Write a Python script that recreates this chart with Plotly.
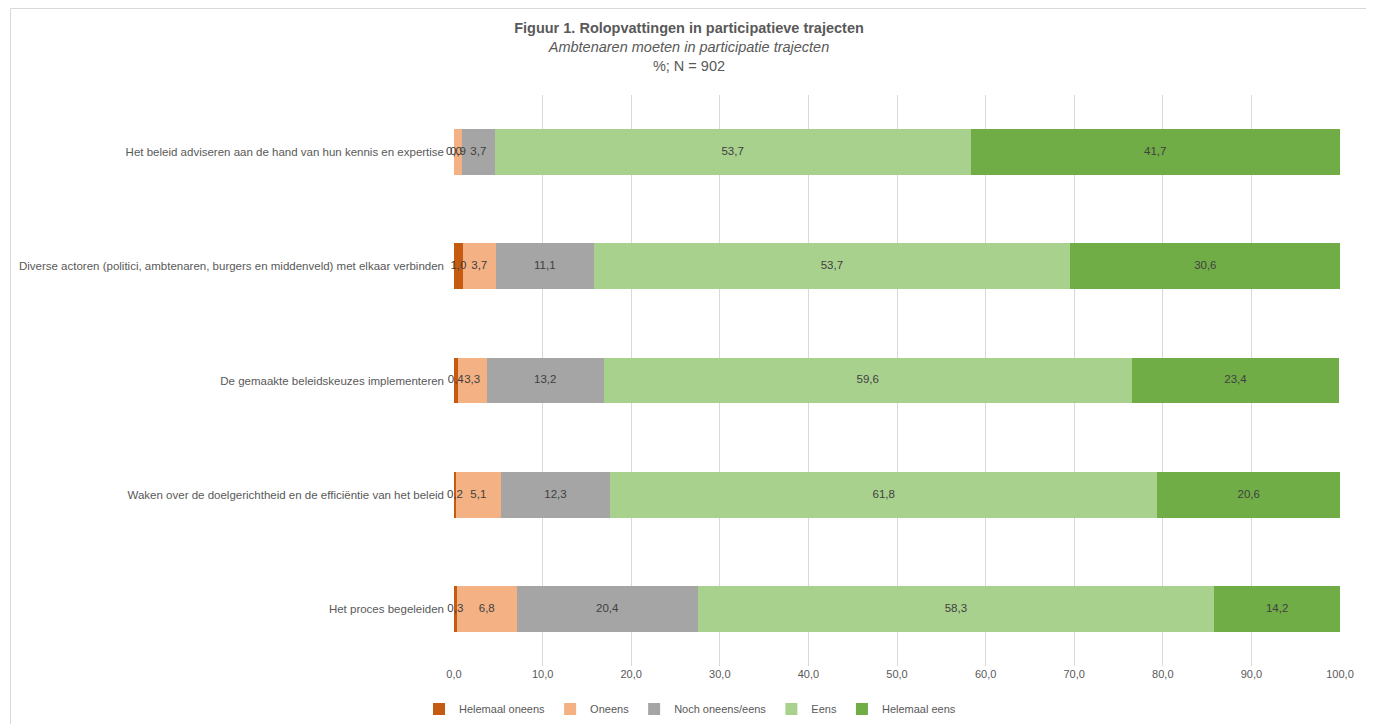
import plotly.graph_objects as go
import numpy as np

categories = [
    "Het beleid adviseren aan de hand van hun kennis en expertise",
    "Diverse actoren (politici, ambtenaren, burgers en middenveld) met elkaar verbinden",
    "De gemaakte beleidskeuzes implementeren",
    "Waken over de doelgerichtheid en de efficiëntie van het beleid",
    "Het proces begeleiden",
]
series_names = ["Helemaal oneens", "Oneens", "Noch oneens/eens", "Eens", "Helemaal eens"]
helemaal_oneens = [0.0, 1.0, 0.4, 0.2, 0.3]
oneens = [0.9, 3.7, 3.3, 5.1, 6.8]
noch = [3.7, 11.1, 13.2, 12.3, 20.4]
eens = [53.7, 53.7, 59.6, 61.8, 58.3]
helemaal_eens = [41.7, 30.6, 23.4, 20.6, 14.2]
colors = ["#C55A11", "#F4B183", "#A5A5A5", "#A9D18E", "#70AD47"]
tick_vals = [0, 10, 20, 30, 40, 50, 60, 70, 80, 90, 100]

FONT = "Liberation Sans"
series = [helemaal_oneens, oneens, noch, eens, helemaal_eens]
fig = go.Figure()
for name, vals, col in zip(series_names, series, colors):
    fig.add_trace(go.Bar(
        y=categories, x=vals, name=name, orientation="h",
        marker=dict(color=col, line=dict(width=0)),
        hoverinfo="skip",
    ))

# data labels drawn on top of all bars (centre of each stacked segment)
base = np.zeros(len(categories))
for name, vals in zip(series_names, series):
    v = np.array(vals)
    fig.add_trace(go.Scatter(
        y=categories, x=base + v / 2, mode="text",
        text=[f"{x:.1f}".replace(".", ",") for x in vals],
        textposition="middle center",
        textfont=dict(color="#404040", size=11.5, family=FONT),
        showlegend=False, hoverinfo="skip", cliponaxis=False,
    ))
    base = base + v

OFF = 8  # page body margin
W, H = 1374 - OFF, 724 - OFF
ml = 454 - OFF
mr = W - (1340 - OFF)
mt = 95 - OFF
mb = H - (666 - OFF)
pw, ph = W - ml - mr, H - mt - mb
def px(x):
    return (x - OFF - ml) / pw
def py(y):
    return 1 - (y - OFF - mt) / ph
def cx(x):
    return (x - OFF) / W
def cy(y):
    return 1 - (y - OFF) / H

fig.update_layout(
    width=W, height=H, barmode="stack", bargap=0.6,
    separators=",.",
    margin=dict(l=ml, r=mr, t=mt, b=mb, autoexpand=False),
    paper_bgcolor="white", plot_bgcolor="white",
    font=dict(family=FONT, size=11, color="#595959"),
    title=dict(
        text="<b>Figuur 1. Rolopvattingen in participatieve trajecten</b><br><i>Ambtenaren moeten in participatie trajecten</i><br>%; N = 902",
        x=cx(689), xref="container", xanchor="center", y=cy(33), yref="container", yanchor="top",
        font=dict(size=14.5, color="#595959", family=FONT),
    ),
    xaxis=dict(range=[0, 100], tickvals=tick_vals, tickformat=".1f", showgrid=True,
               gridcolor="#D9D9D9", gridwidth=1, zeroline=False, showline=False,
               tickfont=dict(size=11, color="#595959"), ticks=""),
    yaxis=dict(autorange="reversed", showgrid=False, showline=False, ticks="",
               tickfont=dict(size=11.5, color="#595959"), ticklabelstandoff=9),
    legend=dict(orientation="h", x=px(690), xref="paper", xanchor="center", y=py(709), yref="paper",
                yanchor="middle", font=dict(size=11, color="#595959"), traceorder="normal",
                itemwidth=30),
    shapes=[dict(type="rect", xref="paper", yref="paper", x0=px(10.5), x1=px(1369.5), y0=py(740), y1=py(8.5),
                 line=dict(color="#D9D9D9", width=1), fillcolor="rgba(0,0,0,0)", layer="below")],
)
fig.write_html("out.html")
